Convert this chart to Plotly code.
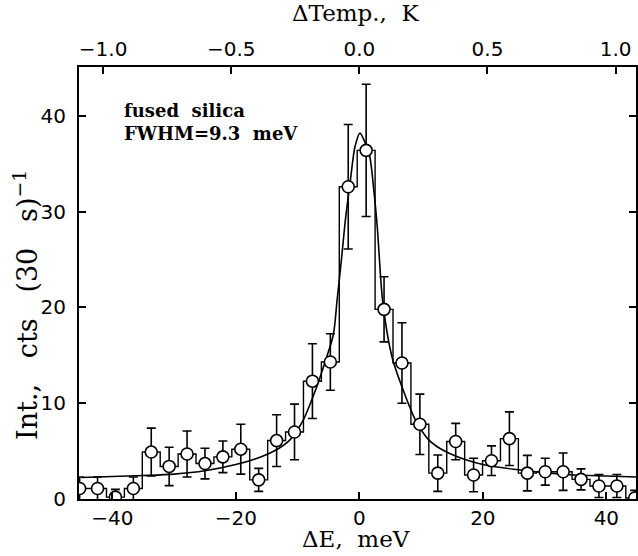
import plotly.graph_objects as go

# measured points
energy = [-45.3, -42.4, -39.5, -36.6, -33.7, -30.8, -27.9, -25.0, -22.1, -19.2, -16.3,
          -13.4, -10.5, -7.6, -4.7, -1.8, 1.1, 4.0, 6.9, 9.8, 12.7, 15.6, 18.5, 21.4,
          24.3, 27.2, 30.1, 33.0, 35.9, 38.8, 41.7, 44.6]
intensity = [1.1, 1.1, 0.2, 1.1, 4.9, 3.4, 4.7, 3.7, 4.4, 5.2, 2.0,
             6.1, 7.0, 12.3, 14.3, 32.6, 36.4, 19.8, 14.2, 7.8, 2.7, 6.0, 2.5, 4.0,
             6.3, 2.7, 2.85, 2.85, 2.05, 1.36, 1.36, 0.1]
errors = [1.2, 1.2, 0.8, 1.2, 2.5, 2.0, 2.4, 1.6, 1.65, 2.6, 1.2,
          2.7, 2.9, 3.9, 2.95, 6.5, 6.9, 3.4, 4.2, 3.15, 1.9, 1.9, 1.75, 1.55,
          2.8, 1.85, 1.4, 1.95, 1.1, 1.2, 1.2, 0.8]

# fit curve
fit_e = [-45, -40, -35, -30, -25, -20, -17, -15, -13, -11.2, -9.2, -7.2, -5.3, -4.2,
         -3.6, -2.9, -2.2, -1.5, -0.7, 0.1, 0.8, 1.7, 2.3, 2.9, 3.8, 5.3, 7.2, 9.2,
         11.2, 13, 15, 17, 20, 25, 30, 35, 40, 45]
fit_i = [2.25, 2.35, 2.45, 2.6, 2.95, 3.6, 4.15, 4.65, 5.3, 6.2, 8.1, 11.2, 14.8, 17.2,
         20.8, 25.0, 29.5, 33.0, 36.8, 38.2, 37.4, 35.7, 32.5, 28.4, 20.5, 14.8, 11.2, 8.1,
         6.2, 5.3, 4.65, 4.15, 3.6, 3.1, 2.75, 2.5, 2.4, 2.3]

temp_ticks = [-1.0, -0.5, 0.0, 0.5, 1.0]
temp_labels = ["−1.0", "−0.5", "0.0", "0.5", "1.0"]
e_ticks = [-40, -20, 0, 20, 40]
e_labels = ["−40", "−20", "0", "20", "40"]
y_ticks = [0, 10, 20, 30, 40]

X_RANGE = [-45.4, 44.8]
MEV_PER_K = 41.5

fig = go.Figure()
fig.add_trace(go.Scatter(x=energy, y=intensity, mode="lines",
                         line=dict(shape="hvh", color="black", width=1.4),
                         hoverinfo="skip", showlegend=False))
fig.add_trace(go.Scatter(x=fit_e, y=fit_i, mode="lines",
                         line=dict(shape="spline", smoothing=0.8, color="black", width=1.6),
                         showlegend=False))
fig.add_trace(go.Scatter(x=energy, y=intensity, mode="markers",
                         marker=dict(symbol="circle", size=12, color="white",
                                     line=dict(color="black", width=1.6)),
                         error_y=dict(type="data", array=errors, visible=True,
                                      color="black", thickness=1.6, width=4.5),
                         showlegend=False))
# invisible trace for top axis
fig.add_trace(go.Scatter(x=[X_RANGE[0] / MEV_PER_K, X_RANGE[1] / MEV_PER_K], y=[0, 0],
                         xaxis="x2", mode="lines", line=dict(width=0),
                         opacity=0, hoverinfo="skip", showlegend=False))

tick_font = dict(family="DejaVu Sans", size=20, color="black")
title_font = dict(family="DejaVu Serif", size=23, color="black")
ytitle_font = dict(family="DejaVu Serif", size=27, color="black")
note_font = dict(family="DejaVu Serif", size=18, color="black")

fig.update_layout(
    width=638, height=556,
    margin=dict(l=79, r=2, t=67, b=57),
    paper_bgcolor="white", plot_bgcolor="white",
    xaxis=dict(range=X_RANGE, tickvals=e_ticks, ticktext=e_labels, automargin=False,
               ticks="inside", ticklen=7, tickwidth=1.5, tickcolor="black",
               showline=True, linecolor="black", linewidth=2, mirror=True,
               showgrid=False, zeroline=False, tickfont=tick_font),
    xaxis2=dict(range=[X_RANGE[0] / MEV_PER_K, X_RANGE[1] / MEV_PER_K], automargin=False,
                overlaying="x", side="top", tickvals=temp_ticks, ticktext=temp_labels,
                ticks="inside", ticklen=7, tickwidth=1.5, tickcolor="black",
                showline=False, showgrid=False, zeroline=False, tickfont=tick_font,
                ticklabelstandoff=6),
    yaxis=dict(range=[0, 45.1], tickvals=y_ticks, automargin=False,
               ticks="inside", ticklen=7, tickwidth=1.5, tickcolor="black",
               showline=True, linecolor="black", linewidth=2, mirror="ticks",
               showgrid=False, zeroline=False, tickfont=tick_font,
               ticklabelstandoff=7),
    annotations=[
        dict(text="ΔE,  meV", xref="paper", yref="paper", x=0.497, y=0, yshift=-40,
             xanchor="center", yanchor="middle", showarrow=False, font=title_font),
        dict(text="ΔTemp.,  K", xref="paper", yref="paper", x=0.497, y=1, yshift=54,
             xanchor="center", yanchor="middle", showarrow=False, font=title_font),
        dict(text="Int.,   cts   (30   s)<sup>−1</sup>", xref="paper", yref="paper",
             x=0, xshift=-54, y=0.5, yshift=-22, textangle=-90,
             xanchor="center", yanchor="middle", showarrow=False, font=ytitle_font),
        dict(text="<b>fused  silica</b>", xref="paper", yref="paper", x=0.078, y=0.900,
             xanchor="left", yanchor="middle", showarrow=False, font=note_font),
        dict(text="<b>FWHM=9.3  meV</b>", xref="paper", yref="paper", x=0.078, y=0.845,
             xanchor="left", yanchor="middle", showarrow=False, font=note_font),
    ],
)

fig.write_html("out.html", config={"displayModeBar": False},
               post_script="document.body.style.margin='0';document.body.style.padding='0';")
